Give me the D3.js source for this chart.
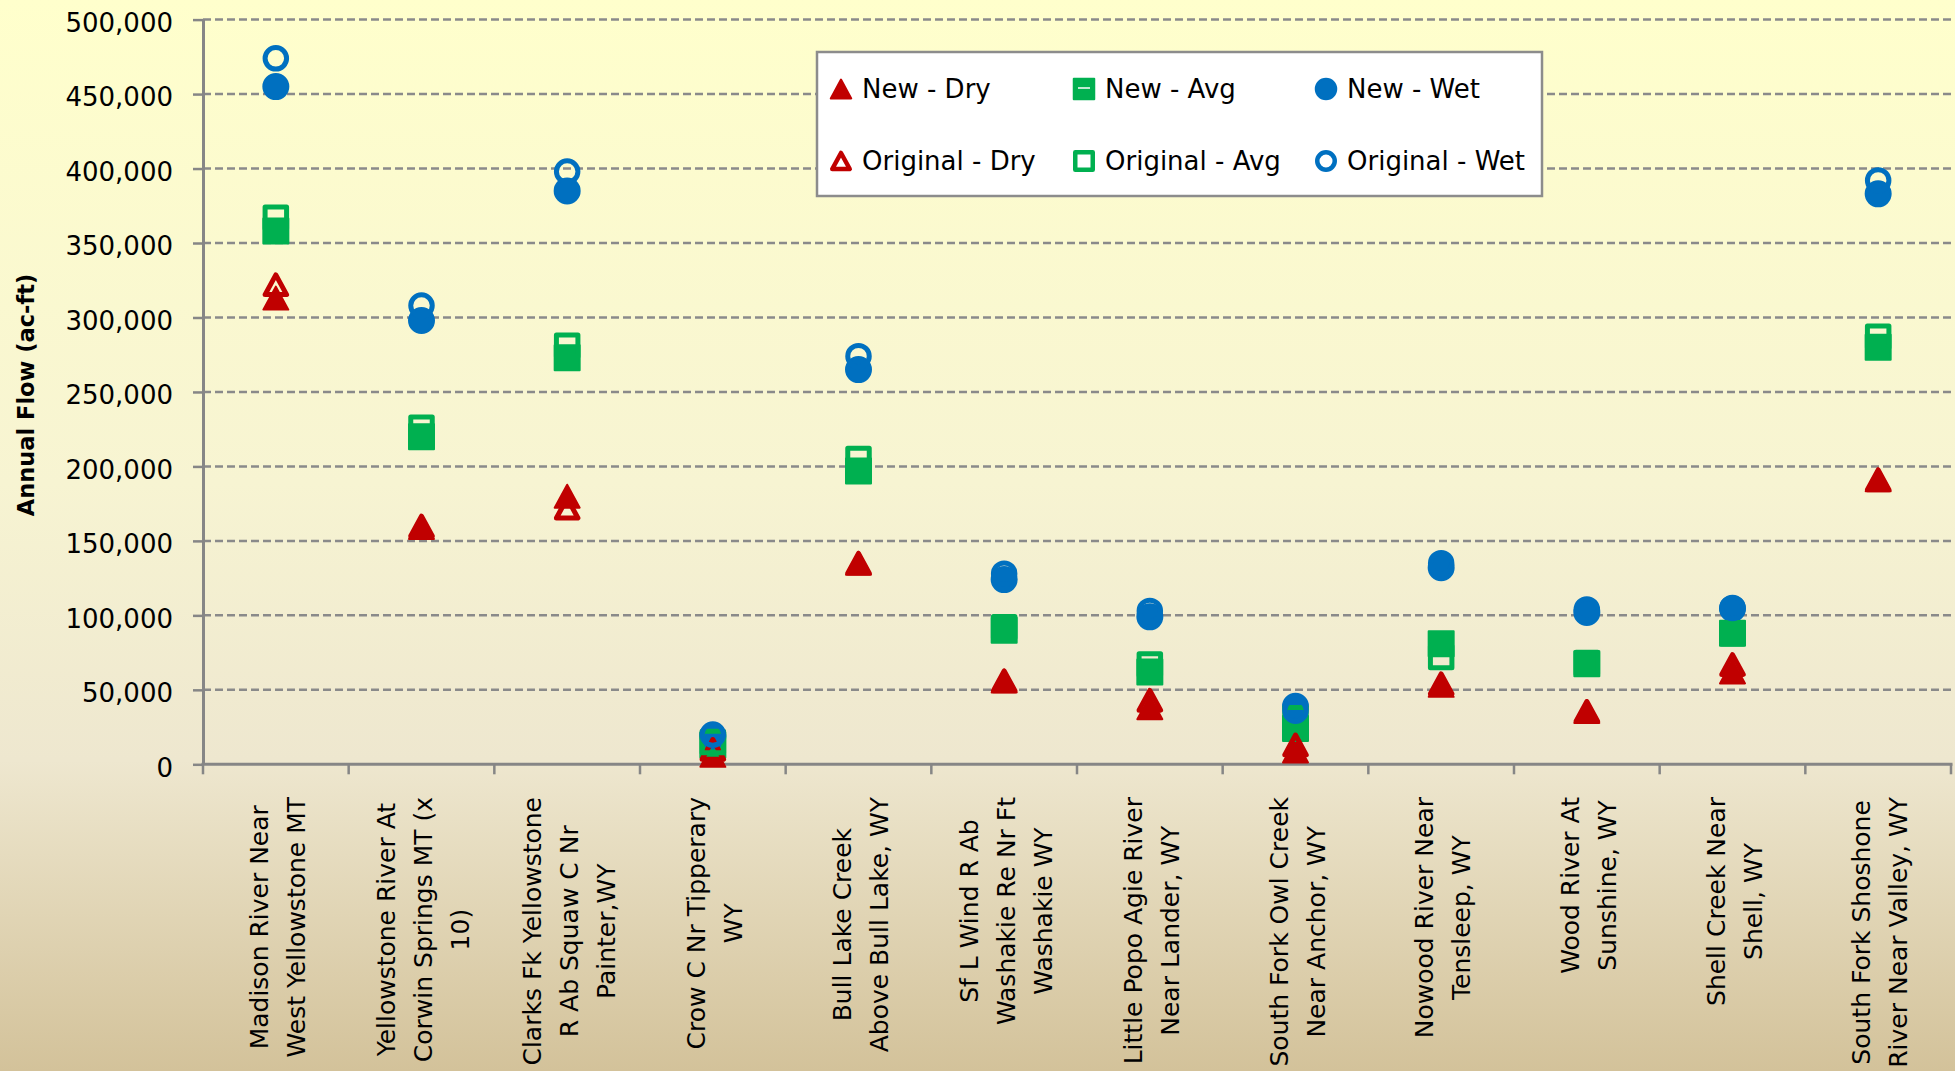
<!DOCTYPE html>
<html>
<head>
<meta charset="utf-8">
<script src="https://cdn.jsdelivr.net/npm/d3@7"></script>
<style>
  html, body { margin: 0; padding: 0; overflow: hidden; }
  svg { display: block; font-family: "DejaVu Sans", sans-serif; }
</style>
</head>
<body>
<svg id="chart"></svg>
<script>
// Stream gauge names (line breaks as in the original axis)
const categories = [
    "Madison River Near\nWest Yellowstone MT",
    "Yellowstone River At\nCorwin Springs MT (x\n10)",
    "Clarks Fk Yellowstone\nR Ab Squaw C Nr\nPainter,WY",
    "Crow C Nr Tipperary\nWY",
    "Bull Lake Creek\nAbove Bull Lake, WY",
    "Sf L Wind R Ab\nWashakie Re Nr Ft\nWashakie WY",
    "Little Popo Agie River\nNear Lander, WY",
    "South Fork Owl Creek\nNear Anchor, WY",
    "Nowood River Near\nTensleep, WY",
    "Wood River At\nSunshine, WY",
    "Shell Creek Near\nShell, WY",
    "South Fork Shoshone\nRiver Near Valley, WY"
];

// Annual flow (ac-ft)
const newDry  = [313000, 159000, 180000,  6000, 135000, 56000, 38000,  9000, 53000, 35500, 62000, 191000];
const newAvg  = [358000, 220000, 273000, 13000, 197000, 90000, 62000, 24000, 81000, 67500, 88000, 280000];
const newWet  = [455000, 298000, 385000, 19000, 265000, 124000, 99000, 39000, 132000, 102000, 104500, 383000];
const origDry = [322000, 160000, 172000, 10000, 135000, 56000, 43000, 13000, 54000, 35500, 67000, 191000];
const origAvg = [367000, 226000, 281000, 15000, 205000, 92000, 67000, 31000, 72000, 68000, 88000, 287000];
const origWet = [474000, 308000, 398000, 20000, 274000, 128000, 103000, 36000, 135000, 104000, 105000, 392000];

const yTicks = [0, 50000, 100000, 150000, 200000, 250000, 300000, 350000, 400000, 450000, 500000];

const width = 1955, height = 1071;
const red = "#C00000", green = "#00B050", blue = "#0070C0", axisGray = "#868686";

const svg = d3.select("#chart").attr("width", width).attr("height", height);

// Background gradient
const grad = svg.append("defs").append("linearGradient")
    .attr("id", "bg").attr("x1", 0).attr("y1", 0).attr("x2", 0).attr("y2", 1);
grad.append("stop").attr("offset", "0%").attr("stop-color", "#FFFFCC");
grad.append("stop").attr("offset", "45%").attr("stop-color", "#F7F4D2");
grad.append("stop").attr("offset", "71%").attr("stop-color", "#EEE7CF");
grad.append("stop").attr("offset", "100%").attr("stop-color", "#D3C29A");
svg.append("rect").attr("width", width).attr("height", height).attr("fill", "url(#bg)");

// Scales
const x = d3.scaleBand().domain(categories).range([203, 1951]).padding(0);
const y = d3.scaleLinear().domain([0, 500000]).range([764.3, 19.6]);

// Dashed gridlines
svg.append("g").selectAll("line")
   .data(yTicks.filter(d => d > 0))
   .join("line")
   .attr("x1", 203).attr("x2", 1951)
   .attr("y1", d => y(d)).attr("y2", d => y(d))
   .attr("stroke", "#8a8a8a")
   .attr("stroke-width", 2.5)
   .attr("stroke-dasharray", "8,4");

// Y axis
const yAxis = svg.append("g")
   .attr("transform", "translate(203,0)")
   .call(d3.axisLeft(y).tickValues(yTicks).tickFormat(d3.format(","))
           .tickSize(10).tickSizeOuter(0).tickPadding(20))
   .attr("font-size", 26)
   .attr("font-family", "DejaVu Sans");
yAxis.select(".domain").attr("stroke", axisGray).attr("stroke-width", 3);
yAxis.selectAll(".tick line").attr("stroke", axisGray).attr("stroke-width", 2.5);
yAxis.selectAll(".tick text").attr("fill", "#000").attr("dy", "0.45em");

// X axis line and boundary ticks
const bounds = categories.map(c => x(c)).concat([x.range()[1]]);
svg.append("line")
   .attr("x1", 201.5).attr("x2", 1952.5)
   .attr("y1", y(0)).attr("y2", y(0))
   .attr("stroke", axisGray).attr("stroke-width", 3);
svg.append("g").selectAll("line")
   .data(bounds)
   .join("line")
   .attr("x1", d => d).attr("x2", d => d)
   .attr("y1", y(0)).attr("y2", y(0) + 10)
   .attr("stroke", axisGray).attr("stroke-width", 2.5);

// Marker shapes (size = box width in px)
const shapes = {
    tri: { draw(ctx, s) { const h = s * 0.92; ctx.moveTo(0, -h / 2); ctx.lineTo(s / 2, h / 2); ctx.lineTo(-s / 2, h / 2); ctx.closePath(); } },
    sq:  { draw(ctx, s) { ctx.rect(-s / 2, -s / 2, s, s); } },
    circ:{ draw(ctx, s) { ctx.moveTo(s / 2, 0); ctx.arc(0, 0, s / 2, 0, 2 * Math.PI); } }
};

const series = [
    { name: "New - Dry",      values: newDry,  shape: "tri",  color: red,   open: false },
    { name: "New - Avg",      values: newAvg,  shape: "sq",   color: green, open: false },
    { name: "New - Wet",      values: newWet,  shape: "circ", color: blue,  open: false },
    { name: "Original - Dry", values: origDry, shape: "tri",  color: red,   open: true },
    { name: "Original - Avg", values: origAvg, shape: "sq",   color: green, open: true },
    { name: "Original - Wet", values: origWet, shape: "circ", color: blue,  open: true }
];

function styleMarker(sel, s, big) {
    const size = s.open ? (big ? 21.5 : 17.5) : (big ? 25 : 20.5);
    sel.attr("d", d3.symbol().type(shapes[s.shape]).size(size))
       .attr("fill", s.open ? "none" : s.color)
       .attr("stroke", s.color)
       .attr("stroke-width", s.open ? (big ? 5 : 4.5) : 2)
       .attr("stroke-linejoin", "round");
}

// Data markers
series.forEach(s => {
    svg.append("g").selectAll("path")
       .data(s.values)
       .join("path")
       .attr("transform", (d, i) => `translate(${x(categories[i]) + x.bandwidth() / 2},${y(d)})`)
       .call(sel => styleMarker(sel, s, true));
});

// Y axis title
svg.append("text")
   .attr("transform", "translate(26,395) rotate(-90)")
   .attr("text-anchor", "middle")
   .attr("dy", "0.35em")
   .attr("font-size", 22.5)
   .attr("font-weight", "bold")
   .text("Annual Flow (ac-ft)");

// X category labels (rotated, lines centred within block)
const lineGap = 37, labelTop = 797;
categories.forEach(cat => {
    const lines = cat.split("\n");
    const cx = x(cat) + x.bandwidth() / 2 + 2;
    const g = svg.append("g").attr("font-size", 25).attr("fill", "#000");
    const texts = lines.map((ln, j) =>
        g.append("text").attr("text-anchor", "middle").attr("dy", "0.35em").text(ln));
    const maxLen = d3.max(texts, t => t.node().getComputedTextLength());
    texts.forEach((t, j) => {
        const lx = cx + (j - (lines.length - 1) / 2) * lineGap;
        t.attr("transform", `translate(${lx},${labelTop + maxLen / 2}) rotate(-90)`);
    });
});

// Legend
const legend = svg.append("g");
legend.append("rect")
   .attr("x", 817).attr("y", 52).attr("width", 725).attr("height", 144)
   .attr("fill", "#fff").attr("stroke", "#8c8c8c").attr("stroke-width", 2.5);
const colX = [841, 1084, 1326], rowY = [89, 161];
series.forEach((s, i) => {
    const mx = colX[i % 3], my = rowY[Math.floor(i / 3)];
    legend.append("path")
       .attr("transform", `translate(${mx},${my})`)
       .call(sel => styleMarker(sel, s, false));
    if (s.name === "New - Avg") {
        legend.append("line")
           .attr("x1", mx - 6).attr("x2", mx + 6).attr("y1", my - 1).attr("y2", my - 1)
           .attr("stroke", "#fff").attr("stroke-width", 1.5);
    }
    legend.append("text")
       .attr("x", mx + 21).attr("y", my)
       .attr("dy", "0.35em")
       .attr("font-size", 26)
       .text(s.name);
});
</script>
</body>
</html>
